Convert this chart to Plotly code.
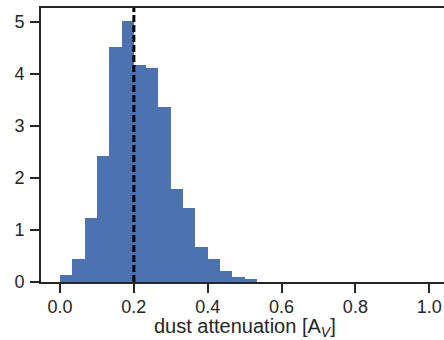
import numpy as np
import plotly.graph_objects as go

# Histogram (density) of dust attenuation A_V
bin_width = 1 / 30
bin_starts = [i * bin_width for i in range(16)]
density = [0.13, 0.44, 1.24, 2.42, 4.52, 5.02, 4.17, 4.12,
           3.37, 1.78, 1.42, 0.68, 0.44, 0.22, 0.10, 0.05]
median_av = 0.2
x_ticks = [0.0, 0.2, 0.4, 0.6, 0.8, 1.0]
x_tick_text = ["0.0", "0.2", "0.4", "0.6", "0.8", "1.0"]
y_ticks = [0, 1, 2, 3, 4, 5]
x_title = "dust attenuation [A<sub><i>V</i></sub>]"

centers = [s + bin_width / 2 for s in bin_starts]

axis_col = "#262626"
tick_font = dict(family="Liberation Sans, Arial, sans-serif", size=18, color=axis_col)
title_font = dict(family="Liberation Sans, Arial, sans-serif", size=20, color=axis_col)

fig = go.Figure()
fig.add_trace(go.Bar(
    x=centers, y=density, width=bin_width,
    marker=dict(color="#4C72B0", line=dict(width=0)),
    showlegend=False,
))
fig.add_shape(type="line", xref="x", yref="paper", x0=median_av, x1=median_av,
              y0=0, y1=1, line=dict(color="black", width=3, dash="7px,3px"))
fig.add_annotation(text=x_title, xref="x", yref="paper", x=0.5, y=0,
                   xanchor="center", yanchor="top", yshift=-31,
                   showarrow=False, font=title_font)

fig.update_layout(
    width=444, height=340,
    margin=dict(l=41, r=0, t=8, b=58),
    paper_bgcolor="white", plot_bgcolor="white",
    font=tick_font,
    bargap=0,
    xaxis=dict(
        range=[-0.0515, 1.04],
        tickvals=x_ticks, ticktext=x_tick_text, tickfont=tick_font,
        ticks="outside", ticklen=9, tickwidth=2, tickcolor=axis_col,
        showline=True, linewidth=2, linecolor=axis_col, mirror=True,
        showgrid=False, zeroline=False,
        ticklabelstandoff=-2,
        automargin=False,
    ),
    yaxis=dict(
        range=[0, 5.27],
        tickvals=y_ticks, tickfont=tick_font,
        ticks="outside", ticklen=9, tickwidth=2, tickcolor=axis_col,
        showline=True, linewidth=2, linecolor=axis_col,
        showgrid=False, zeroline=False,
        ticklabelstandoff=2,
        automargin=False,
    ),
)

fig.write_html("out.html")
